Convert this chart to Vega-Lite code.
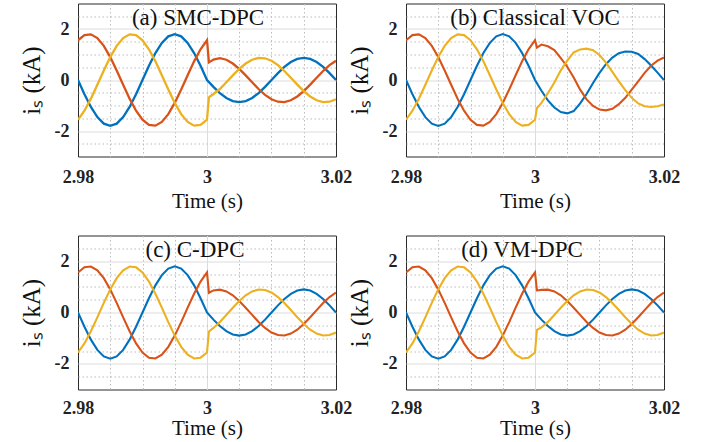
{
  "$schema": "https://vega.github.io/schema/vega-lite/v6.json",
  "padding": {"left": 18, "top": -6.5, "right": 5, "bottom": 0},
  "background": "white",
  "bounds": "flush",
  "columns": 2,
  "spacing": {"row": 79, "column": 70},
  "config": {
    "view": {"stroke": "#2b2b2b", "strokeWidth": 1},
    "axis": {
      "domain": false, "ticks": false, "labelOverlap": false, "labelFlush": false,
      "labelFont": "Liberation Serif", "labelFontWeight": "bold", "labelFontSize": 18, "labelColor": "#222222",
      "titleFont": "Liberation Serif", "titleFontWeight": "normal", "titleFontSize": 21, "titleColor": "#111111"
    },
    "axisY": {"titleFontSize": 25},
    "title": {"frame": "group", "anchor": "middle", "orient": "top", "baseline": "alphabetic", "offset": 0, "dy": 39, "font": "Liberation Serif", "fontSize": 23, "fontWeight": "normal", "color": "#111111"}
  },
  "data": {"values": [
    {"p":"pre","s":"A","t":2.98,"v":0},{"p":"pre","s":"A","t":2.981,"v":-0.556},{"p":"pre","s":"A","t":2.982,"v":-1.058},{"p":"pre","s":"A","t":2.983,"v":-1.456},{"p":"pre","s":"A","t":2.984,"v":-1.712},{"p":"pre","s":"A","t":2.985,"v":-1.8},{"p":"pre","s":"A","t":2.986,"v":-1.712},{"p":"pre","s":"A","t":2.987,"v":-1.456},{"p":"pre","s":"A","t":2.988,"v":-1.058},{"p":"pre","s":"A","t":2.989,"v":-0.556},{"p":"pre","s":"A","t":2.99,"v":0},{"p":"pre","s":"A","t":2.991,"v":0.556},{"p":"pre","s":"A","t":2.992,"v":1.058},{"p":"pre","s":"A","t":2.993,"v":1.456},{"p":"pre","s":"A","t":2.994,"v":1.712},{"p":"pre","s":"A","t":2.995,"v":1.8},{"p":"pre","s":"A","t":2.996,"v":1.712},{"p":"pre","s":"A","t":2.997,"v":1.456},{"p":"pre","s":"A","t":2.998,"v":1.058},{"p":"pre","s":"A","t":2.999,"v":0.556},{"p":"pre","s":"A","t":3.0,"v":0},
    {"p":"pre","s":"B","t":2.98,"v":1.559},{"p":"pre","s":"B","t":2.981,"v":1.761},{"p":"pre","s":"B","t":2.982,"v":1.79},{"p":"pre","s":"B","t":2.983,"v":1.644},{"p":"pre","s":"B","t":2.984,"v":1.338},{"p":"pre","s":"B","t":2.985,"v":0.9},{"p":"pre","s":"B","t":2.986,"v":0.374},{"p":"pre","s":"B","t":2.987,"v":-0.188},{"p":"pre","s":"B","t":2.988,"v":-0.732},{"p":"pre","s":"B","t":2.989,"v":-1.204},{"p":"pre","s":"B","t":2.99,"v":-1.559},{"p":"pre","s":"B","t":2.991,"v":-1.761},{"p":"pre","s":"B","t":2.992,"v":-1.79},{"p":"pre","s":"B","t":2.993,"v":-1.644},{"p":"pre","s":"B","t":2.994,"v":-1.338},{"p":"pre","s":"B","t":2.995,"v":-0.9},{"p":"pre","s":"B","t":2.996,"v":-0.374},{"p":"pre","s":"B","t":2.997,"v":0.188},{"p":"pre","s":"B","t":2.998,"v":0.732},{"p":"pre","s":"B","t":2.999,"v":1.204},{"p":"pre","s":"B","t":3.0,"v":1.559},
    {"p":"pre","s":"C","t":2.98,"v":-1.559},{"p":"pre","s":"C","t":2.981,"v":-1.205},{"p":"pre","s":"C","t":2.982,"v":-0.732},{"p":"pre","s":"C","t":2.983,"v":-0.188},{"p":"pre","s":"C","t":2.984,"v":0.374},{"p":"pre","s":"C","t":2.985,"v":0.9},{"p":"pre","s":"C","t":2.986,"v":1.338},{"p":"pre","s":"C","t":2.987,"v":1.644},{"p":"pre","s":"C","t":2.988,"v":1.79},{"p":"pre","s":"C","t":2.989,"v":1.76},{"p":"pre","s":"C","t":2.99,"v":1.559},{"p":"pre","s":"C","t":2.991,"v":1.205},{"p":"pre","s":"C","t":2.992,"v":0.732},{"p":"pre","s":"C","t":2.993,"v":0.188},{"p":"pre","s":"C","t":2.994,"v":-0.374},{"p":"pre","s":"C","t":2.995,"v":-0.9},{"p":"pre","s":"C","t":2.996,"v":-1.338},{"p":"pre","s":"C","t":2.997,"v":-1.644},{"p":"pre","s":"C","t":2.998,"v":-1.79},{"p":"pre","s":"C","t":2.999,"v":-1.76},{"p":"pre","s":"C","t":3.0,"v":-1.559},

    {"p":"a","s":"A","t":3.001,"v":-0.269},{"p":"a","s":"A","t":3.002,"v":-0.512},{"p":"a","s":"A","t":3.003,"v":-0.704},{"p":"a","s":"A","t":3.004,"v":-0.827},{"p":"a","s":"A","t":3.005,"v":-0.87},{"p":"a","s":"A","t":3.006,"v":-0.827},{"p":"a","s":"A","t":3.007,"v":-0.704},{"p":"a","s":"A","t":3.008,"v":-0.512},{"p":"a","s":"A","t":3.009,"v":-0.269},{"p":"a","s":"A","t":3.01,"v":0},{"p":"a","s":"A","t":3.011,"v":0.269},{"p":"a","s":"A","t":3.012,"v":0.512},{"p":"a","s":"A","t":3.013,"v":0.704},{"p":"a","s":"A","t":3.014,"v":0.827},{"p":"a","s":"A","t":3.015,"v":0.87},{"p":"a","s":"A","t":3.016,"v":0.827},{"p":"a","s":"A","t":3.017,"v":0.704},{"p":"a","s":"A","t":3.018,"v":0.512},{"p":"a","s":"A","t":3.019,"v":0.269},{"p":"a","s":"A","t":3.02,"v":0},
    {"p":"a","s":"B","t":3.0003,"v":0.69},{"p":"a","s":"B","t":3.001,"v":0.8},{"p":"a","s":"B","t":3.002,"v":0.86},{"p":"a","s":"B","t":3.003,"v":0.795},{"p":"a","s":"B","t":3.004,"v":0.646},{"p":"a","s":"B","t":3.005,"v":0.435},{"p":"a","s":"B","t":3.006,"v":0.181},{"p":"a","s":"B","t":3.007,"v":-0.091},{"p":"a","s":"B","t":3.008,"v":-0.354},{"p":"a","s":"B","t":3.009,"v":-0.582},{"p":"a","s":"B","t":3.01,"v":-0.753},{"p":"a","s":"B","t":3.011,"v":-0.851},{"p":"a","s":"B","t":3.012,"v":-0.865},{"p":"a","s":"B","t":3.013,"v":-0.795},{"p":"a","s":"B","t":3.014,"v":-0.646},{"p":"a","s":"B","t":3.015,"v":-0.435},{"p":"a","s":"B","t":3.016,"v":-0.181},{"p":"a","s":"B","t":3.017,"v":0.091},{"p":"a","s":"B","t":3.018,"v":0.354},{"p":"a","s":"B","t":3.019,"v":0.582},{"p":"a","s":"B","t":3.02,"v":0.753},
    {"p":"a","s":"C","t":3.0003,"v":-0.68},{"p":"a","s":"C","t":3.001,"v":-0.55},{"p":"a","s":"C","t":3.002,"v":-0.354},{"p":"a","s":"C","t":3.003,"v":-0.091},{"p":"a","s":"C","t":3.004,"v":0.181},{"p":"a","s":"C","t":3.005,"v":0.435},{"p":"a","s":"C","t":3.006,"v":0.646},{"p":"a","s":"C","t":3.007,"v":0.795},{"p":"a","s":"C","t":3.008,"v":0.865},{"p":"a","s":"C","t":3.009,"v":0.851},{"p":"a","s":"C","t":3.01,"v":0.753},{"p":"a","s":"C","t":3.011,"v":0.582},{"p":"a","s":"C","t":3.012,"v":0.354},{"p":"a","s":"C","t":3.013,"v":0.091},{"p":"a","s":"C","t":3.014,"v":-0.181},{"p":"a","s":"C","t":3.015,"v":-0.435},{"p":"a","s":"C","t":3.016,"v":-0.646},{"p":"a","s":"C","t":3.017,"v":-0.795},{"p":"a","s":"C","t":3.018,"v":-0.865},{"p":"a","s":"C","t":3.019,"v":-0.851},{"p":"a","s":"C","t":3.02,"v":-0.753},

    {"p":"b","s":"A","t":3.001,"v":-0.42},{"p":"b","s":"A","t":3.002,"v":-0.8},{"p":"b","s":"A","t":3.003,"v":-1.08},{"p":"b","s":"A","t":3.004,"v":-1.26},{"p":"b","s":"A","t":3.005,"v":-1.31},{"p":"b","s":"A","t":3.006,"v":-1.22},{"p":"b","s":"A","t":3.007,"v":-0.92},{"p":"b","s":"A","t":3.008,"v":-0.55},{"p":"b","s":"A","t":3.009,"v":-0.12},{"p":"b","s":"A","t":3.01,"v":0.28},{"p":"b","s":"A","t":3.011,"v":0.62},{"p":"b","s":"A","t":3.012,"v":0.88},{"p":"b","s":"A","t":3.013,"v":1.05},{"p":"b","s":"A","t":3.014,"v":1.12},{"p":"b","s":"A","t":3.015,"v":1.11},{"p":"b","s":"A","t":3.016,"v":1.02},{"p":"b","s":"A","t":3.017,"v":0.82},{"p":"b","s":"A","t":3.018,"v":0.57},{"p":"b","s":"A","t":3.019,"v":0.29},{"p":"b","s":"A","t":3.02,"v":0},
    {"p":"b","s":"B","t":3.0003,"v":1.27},{"p":"b","s":"B","t":3.001,"v":1.39},{"p":"b","s":"B","t":3.002,"v":1.32},{"p":"b","s":"B","t":3.003,"v":1.17},{"p":"b","s":"B","t":3.004,"v":0.86},{"p":"b","s":"B","t":3.005,"v":0.52},{"p":"b","s":"B","t":3.006,"v":0.1},{"p":"b","s":"B","t":3.007,"v":-0.38},{"p":"b","s":"B","t":3.008,"v":-0.76},{"p":"b","s":"B","t":3.009,"v":-1.02},{"p":"b","s":"B","t":3.01,"v":-1.16},{"p":"b","s":"B","t":3.011,"v":-1.19},{"p":"b","s":"B","t":3.012,"v":-1.13},{"p":"b","s":"B","t":3.013,"v":-0.95},{"p":"b","s":"B","t":3.014,"v":-0.7},{"p":"b","s":"B","t":3.015,"v":-0.38},{"p":"b","s":"B","t":3.016,"v":-0.05},{"p":"b","s":"B","t":3.017,"v":0.28},{"p":"b","s":"B","t":3.018,"v":0.56},{"p":"b","s":"B","t":3.019,"v":0.76},{"p":"b","s":"B","t":3.02,"v":0.88},
    {"p":"b","s":"C","t":3.0003,"v":-1.1},{"p":"b","s":"C","t":3.001,"v":-0.9},{"p":"b","s":"C","t":3.002,"v":-0.52},{"p":"b","s":"C","t":3.003,"v":-0.1},{"p":"b","s":"C","t":3.004,"v":0.38},{"p":"b","s":"C","t":3.005,"v":0.76},{"p":"b","s":"C","t":3.006,"v":1.08},{"p":"b","s":"C","t":3.007,"v":1.2},{"p":"b","s":"C","t":3.008,"v":1.23},{"p":"b","s":"C","t":3.009,"v":1.17},{"p":"b","s":"C","t":3.01,"v":0.98},{"p":"b","s":"C","t":3.011,"v":0.68},{"p":"b","s":"C","t":3.012,"v":0.32},{"p":"b","s":"C","t":3.013,"v":-0.05},{"p":"b","s":"C","t":3.014,"v":-0.4},{"p":"b","s":"C","t":3.015,"v":-0.7},{"p":"b","s":"C","t":3.016,"v":-0.92},{"p":"b","s":"C","t":3.017,"v":-1.03},{"p":"b","s":"C","t":3.018,"v":-1.06},{"p":"b","s":"C","t":3.019,"v":-1.03},{"p":"b","s":"C","t":3.02,"v":-0.96},

    {"p":"c","s":"A","t":3.001,"v":-0.278},{"p":"c","s":"A","t":3.002,"v":-0.529},{"p":"c","s":"A","t":3.003,"v":-0.728},{"p":"c","s":"A","t":3.004,"v":-0.856},{"p":"c","s":"A","t":3.005,"v":-0.9},{"p":"c","s":"A","t":3.006,"v":-0.856},{"p":"c","s":"A","t":3.007,"v":-0.728},{"p":"c","s":"A","t":3.008,"v":-0.529},{"p":"c","s":"A","t":3.009,"v":-0.278},{"p":"c","s":"A","t":3.01,"v":0},{"p":"c","s":"A","t":3.011,"v":0.278},{"p":"c","s":"A","t":3.012,"v":0.529},{"p":"c","s":"A","t":3.013,"v":0.728},{"p":"c","s":"A","t":3.014,"v":0.856},{"p":"c","s":"A","t":3.015,"v":0.9},{"p":"c","s":"A","t":3.016,"v":0.856},{"p":"c","s":"A","t":3.017,"v":0.728},{"p":"c","s":"A","t":3.018,"v":0.529},{"p":"c","s":"A","t":3.019,"v":0.278},{"p":"c","s":"A","t":3.02,"v":0},
    {"p":"c","s":"B","t":3.0003,"v":0.77},{"p":"c","s":"B","t":3.001,"v":0.86},{"p":"c","s":"B","t":3.002,"v":0.89},{"p":"c","s":"B","t":3.003,"v":0.822},{"p":"c","s":"B","t":3.004,"v":0.669},{"p":"c","s":"B","t":3.005,"v":0.45},{"p":"c","s":"B","t":3.006,"v":0.187},{"p":"c","s":"B","t":3.007,"v":-0.094},{"p":"c","s":"B","t":3.008,"v":-0.366},{"p":"c","s":"B","t":3.009,"v":-0.602},{"p":"c","s":"B","t":3.01,"v":-0.779},{"p":"c","s":"B","t":3.011,"v":-0.88},{"p":"c","s":"B","t":3.012,"v":-0.895},{"p":"c","s":"B","t":3.013,"v":-0.822},{"p":"c","s":"B","t":3.014,"v":-0.669},{"p":"c","s":"B","t":3.015,"v":-0.45},{"p":"c","s":"B","t":3.016,"v":-0.187},{"p":"c","s":"B","t":3.017,"v":0.094},{"p":"c","s":"B","t":3.018,"v":0.366},{"p":"c","s":"B","t":3.019,"v":0.602},{"p":"c","s":"B","t":3.02,"v":0.779},
    {"p":"c","s":"C","t":3.0003,"v":-0.74},{"p":"c","s":"C","t":3.001,"v":-0.6},{"p":"c","s":"C","t":3.002,"v":-0.366},{"p":"c","s":"C","t":3.003,"v":-0.094},{"p":"c","s":"C","t":3.004,"v":0.187},{"p":"c","s":"C","t":3.005,"v":0.45},{"p":"c","s":"C","t":3.006,"v":0.669},{"p":"c","s":"C","t":3.007,"v":0.822},{"p":"c","s":"C","t":3.008,"v":0.895},{"p":"c","s":"C","t":3.009,"v":0.88},{"p":"c","s":"C","t":3.01,"v":0.779},{"p":"c","s":"C","t":3.011,"v":0.602},{"p":"c","s":"C","t":3.012,"v":0.366},{"p":"c","s":"C","t":3.013,"v":0.094},{"p":"c","s":"C","t":3.014,"v":-0.187},{"p":"c","s":"C","t":3.015,"v":-0.45},{"p":"c","s":"C","t":3.016,"v":-0.669},{"p":"c","s":"C","t":3.017,"v":-0.822},{"p":"c","s":"C","t":3.018,"v":-0.895},{"p":"c","s":"C","t":3.019,"v":-0.88},{"p":"c","s":"C","t":3.02,"v":-0.779},

    {"p":"d","s":"A","t":3.001,"v":-0.278},{"p":"d","s":"A","t":3.002,"v":-0.529},{"p":"d","s":"A","t":3.003,"v":-0.728},{"p":"d","s":"A","t":3.004,"v":-0.856},{"p":"d","s":"A","t":3.005,"v":-0.9},{"p":"d","s":"A","t":3.006,"v":-0.856},{"p":"d","s":"A","t":3.007,"v":-0.728},{"p":"d","s":"A","t":3.008,"v":-0.529},{"p":"d","s":"A","t":3.009,"v":-0.278},{"p":"d","s":"A","t":3.01,"v":0},{"p":"d","s":"A","t":3.011,"v":0.278},{"p":"d","s":"A","t":3.012,"v":0.529},{"p":"d","s":"A","t":3.013,"v":0.728},{"p":"d","s":"A","t":3.014,"v":0.856},{"p":"d","s":"A","t":3.015,"v":0.9},{"p":"d","s":"A","t":3.016,"v":0.856},{"p":"d","s":"A","t":3.017,"v":0.728},{"p":"d","s":"A","t":3.018,"v":0.529},{"p":"d","s":"A","t":3.019,"v":0.278},{"p":"d","s":"A","t":3.02,"v":0},
    {"p":"d","s":"B","t":3.0003,"v":0.86},{"p":"d","s":"B","t":3.001,"v":0.88},{"p":"d","s":"B","t":3.002,"v":0.89},{"p":"d","s":"B","t":3.003,"v":0.822},{"p":"d","s":"B","t":3.004,"v":0.669},{"p":"d","s":"B","t":3.005,"v":0.45},{"p":"d","s":"B","t":3.006,"v":0.187},{"p":"d","s":"B","t":3.007,"v":-0.094},{"p":"d","s":"B","t":3.008,"v":-0.366},{"p":"d","s":"B","t":3.009,"v":-0.602},{"p":"d","s":"B","t":3.01,"v":-0.779},{"p":"d","s":"B","t":3.011,"v":-0.88},{"p":"d","s":"B","t":3.012,"v":-0.895},{"p":"d","s":"B","t":3.013,"v":-0.822},{"p":"d","s":"B","t":3.014,"v":-0.669},{"p":"d","s":"B","t":3.015,"v":-0.45},{"p":"d","s":"B","t":3.016,"v":-0.187},{"p":"d","s":"B","t":3.017,"v":0.094},{"p":"d","s":"B","t":3.018,"v":0.366},{"p":"d","s":"B","t":3.019,"v":0.602},{"p":"d","s":"B","t":3.02,"v":0.779},
    {"p":"d","s":"C","t":3.0003,"v":-0.68},{"p":"d","s":"C","t":3.001,"v":-0.58},{"p":"d","s":"C","t":3.002,"v":-0.366},{"p":"d","s":"C","t":3.003,"v":-0.094},{"p":"d","s":"C","t":3.004,"v":0.187},{"p":"d","s":"C","t":3.005,"v":0.45},{"p":"d","s":"C","t":3.006,"v":0.669},{"p":"d","s":"C","t":3.007,"v":0.822},{"p":"d","s":"C","t":3.008,"v":0.895},{"p":"d","s":"C","t":3.009,"v":0.88},{"p":"d","s":"C","t":3.01,"v":0.779},{"p":"d","s":"C","t":3.011,"v":0.602},{"p":"d","s":"C","t":3.012,"v":0.366},{"p":"d","s":"C","t":3.013,"v":0.094},{"p":"d","s":"C","t":3.014,"v":-0.187},{"p":"d","s":"C","t":3.015,"v":-0.45},{"p":"d","s":"C","t":3.016,"v":-0.669},{"p":"d","s":"C","t":3.017,"v":-0.822},{"p":"d","s":"C","t":3.018,"v":-0.895},{"p":"d","s":"C","t":3.019,"v":-0.88},{"p":"d","s":"C","t":3.02,"v":-0.779}
  ]},
  "concat": [
    {
      "width": 258, "height": 153,
      "title": {"text": "(a) SMC-DPC", "dx": -9},
      "transform": [{"filter": "datum.p == 'pre' || datum.p == 'a'"}],
      "mark": {"type": "line", "strokeWidth": 2.3, "clip": true},
      "encoding": {
        "x": {"field": "t", "type": "quantitative", "scale": {"domain": [2.98, 3.02], "nice": false, "zero": false},
          "axis": {"values": [2.98, 2.985, 2.99, 2.995, 3, 3.005, 3.01, 3.015, 3.02], "title": "Time (s)", "labelPadding": 12, "titlePadding": 3.5,
            "labelExpr": "abs(datum.value*50-round(datum.value*50)) < 0.01 ? toString(round(datum.value*100)/100) : ''",
            "gridOpacity": {"condition": {"test": "datum.value < 2.9801 || datum.value > 3.0199", "value": 0}, "value": 1},
            "gridDash": {"condition": {"test": "abs(datum.value*50-round(datum.value*50)) < 0.01", "value": []}, "value": [1.5, 2.5]},
            "gridColor": {"condition": {"test": "abs(datum.value*50-round(datum.value*50)) < 0.01", "value": "#dcdcdc"}, "value": "#bdbdbd"}}},
        "y": {"field": "v", "type": "quantitative", "scale": {"domain": [-3, 3], "nice": false},
          "axis": {"values": [-3, -2.5, -2, -1.5, -1, -0.5, 0, 0.5, 1, 1.5, 2, 2.5, 3], "title": "iₛ  (kA)", "labelPadding": 9, "titlePadding": 10,
            "labelExpr": "datum.value % 2 == 0 ? toString(datum.value) : ''",
            "gridOpacity": {"condition": {"test": "abs(datum.value) > 2.9", "value": 0}, "value": 1},
            "gridDash": {"condition": {"test": "datum.value % 2 == 0", "value": []}, "value": [1.5, 2.5]},
            "gridColor": {"condition": {"test": "datum.value % 2 == 0", "value": "#dcdcdc"}, "value": "#bdbdbd"}}},
        "color": {"field": "s", "type": "nominal", "scale": {"domain": ["A", "B", "C"], "range": ["#0072BD", "#D95319", "#EDB120"]}, "legend": null}
      }
    },
    {
      "width": 258, "height": 153,
      "title": {"text": "(b) Classical VOC", "dx": 0},
      "transform": [{"filter": "datum.p == 'pre' || datum.p == 'b'"}],
      "mark": {"type": "line", "strokeWidth": 2.1, "clip": true},
      "encoding": {
        "x": {"field": "t", "type": "quantitative", "scale": {"domain": [2.98, 3.02], "nice": false, "zero": false},
          "axis": {"values": [2.98, 2.985, 2.99, 2.995, 3, 3.005, 3.01, 3.015, 3.02], "title": "Time (s)", "labelPadding": 12, "titlePadding": 3.5,
            "labelExpr": "abs(datum.value*50-round(datum.value*50)) < 0.01 ? toString(round(datum.value*100)/100) : ''",
            "gridOpacity": {"condition": {"test": "datum.value < 2.9801 || datum.value > 3.0199", "value": 0}, "value": 1},
            "gridDash": {"condition": {"test": "abs(datum.value*50-round(datum.value*50)) < 0.01", "value": []}, "value": [1.5, 2.5]},
            "gridColor": {"condition": {"test": "abs(datum.value*50-round(datum.value*50)) < 0.01", "value": "#dcdcdc"}, "value": "#bdbdbd"}}},
        "y": {"field": "v", "type": "quantitative", "scale": {"domain": [-3, 3], "nice": false},
          "axis": {"values": [-3, -2.5, -2, -1.5, -1, -0.5, 0, 0.5, 1, 1.5, 2, 2.5, 3], "title": "iₛ  (kA)", "labelPadding": 9, "titlePadding": 10,
            "labelExpr": "datum.value % 2 == 0 ? toString(datum.value) : ''",
            "gridOpacity": {"condition": {"test": "abs(datum.value) > 2.9", "value": 0}, "value": 1},
            "gridDash": {"condition": {"test": "datum.value % 2 == 0", "value": []}, "value": [1.5, 2.5]},
            "gridColor": {"condition": {"test": "datum.value % 2 == 0", "value": "#dcdcdc"}, "value": "#bdbdbd"}}},
        "color": {"field": "s", "type": "nominal", "scale": {"domain": ["A", "B", "C"], "range": ["#0072BD", "#D95319", "#EDB120"]}, "legend": null}
      }
    },
    {
      "width": 258, "height": 154,
      "title": {"text": "(c) C-DPC", "dx": -12},
      "transform": [{"filter": "datum.p == 'pre' || datum.p == 'c'"}],
      "mark": {"type": "line", "strokeWidth": 2.1, "clip": true},
      "encoding": {
        "x": {"field": "t", "type": "quantitative", "scale": {"domain": [2.98, 3.02], "nice": false, "zero": false},
          "axis": {"values": [2.98, 2.985, 2.99, 2.995, 3, 3.005, 3.01, 3.015, 3.02], "title": "Time (s)", "labelPadding": 10, "titlePadding": 0,
            "labelExpr": "abs(datum.value*50-round(datum.value*50)) < 0.01 ? toString(round(datum.value*100)/100) : ''",
            "gridOpacity": {"condition": {"test": "datum.value < 2.9801 || datum.value > 3.0199", "value": 0}, "value": 1},
            "gridDash": {"condition": {"test": "abs(datum.value*50-round(datum.value*50)) < 0.01", "value": []}, "value": [1.5, 2.5]},
            "gridColor": {"condition": {"test": "abs(datum.value*50-round(datum.value*50)) < 0.01", "value": "#dcdcdc"}, "value": "#bdbdbd"}}},
        "y": {"field": "v", "type": "quantitative", "scale": {"domain": [-3, 3], "nice": false},
          "axis": {"values": [-3, -2.5, -2, -1.5, -1, -0.5, 0, 0.5, 1, 1.5, 2, 2.5, 3], "title": "iₛ  (kA)", "labelPadding": 9, "titlePadding": 10,
            "labelExpr": "datum.value % 2 == 0 ? toString(datum.value) : ''",
            "gridOpacity": {"condition": {"test": "abs(datum.value) > 2.9", "value": 0}, "value": 1},
            "gridDash": {"condition": {"test": "datum.value % 2 == 0", "value": []}, "value": [1.5, 2.5]},
            "gridColor": {"condition": {"test": "datum.value % 2 == 0", "value": "#dcdcdc"}, "value": "#bdbdbd"}}},
        "color": {"field": "s", "type": "nominal", "scale": {"domain": ["A", "B", "C"], "range": ["#0072BD", "#D95319", "#EDB120"]}, "legend": null}
      }
    },
    {
      "width": 258, "height": 154,
      "title": {"text": "(d) VM-DPC", "dx": -13},
      "transform": [{"filter": "datum.p == 'pre' || datum.p == 'd'"}],
      "mark": {"type": "line", "strokeWidth": 2.1, "clip": true},
      "encoding": {
        "x": {"field": "t", "type": "quantitative", "scale": {"domain": [2.98, 3.02], "nice": false, "zero": false},
          "axis": {"values": [2.98, 2.985, 2.99, 2.995, 3, 3.005, 3.01, 3.015, 3.02], "title": "Time (s)", "labelPadding": 10, "titlePadding": 0,
            "labelExpr": "abs(datum.value*50-round(datum.value*50)) < 0.01 ? toString(round(datum.value*100)/100) : ''",
            "gridOpacity": {"condition": {"test": "datum.value < 2.9801 || datum.value > 3.0199", "value": 0}, "value": 1},
            "gridDash": {"condition": {"test": "abs(datum.value*50-round(datum.value*50)) < 0.01", "value": []}, "value": [1.5, 2.5]},
            "gridColor": {"condition": {"test": "abs(datum.value*50-round(datum.value*50)) < 0.01", "value": "#dcdcdc"}, "value": "#bdbdbd"}}},
        "y": {"field": "v", "type": "quantitative", "scale": {"domain": [-3, 3], "nice": false},
          "axis": {"values": [-3, -2.5, -2, -1.5, -1, -0.5, 0, 0.5, 1, 1.5, 2, 2.5, 3], "title": "iₛ  (kA)", "labelPadding": 9, "titlePadding": 10,
            "labelExpr": "datum.value % 2 == 0 ? toString(datum.value) : ''",
            "gridOpacity": {"condition": {"test": "abs(datum.value) > 2.9", "value": 0}, "value": 1},
            "gridDash": {"condition": {"test": "datum.value % 2 == 0", "value": []}, "value": [1.5, 2.5]},
            "gridColor": {"condition": {"test": "datum.value % 2 == 0", "value": "#dcdcdc"}, "value": "#bdbdbd"}}},
        "color": {"field": "s", "type": "nominal", "scale": {"domain": ["A", "B", "C"], "range": ["#0072BD", "#D95319", "#EDB120"]}, "legend": null}
      }
    }
  ],
  "resolve": {"scale": {"x": "independent", "y": "independent"}}
}
